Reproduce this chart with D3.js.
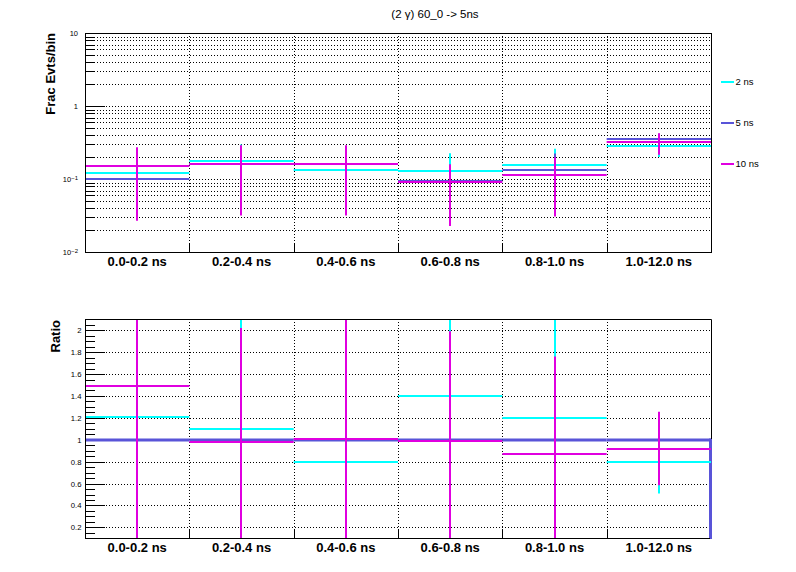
<!DOCTYPE html>
<html><head><meta charset="utf-8">
<script src="https://cdn.jsdelivr.net/npm/d3@7"></script>
<style>body{margin:0;background:#fff}svg{display:block;font-family:"Liberation Sans",Arial,Helvetica,sans-serif}</style>
</head><body><svg id="c" width="796" height="572"></svg>
<script>
// ---------------- data ----------------
const categories = ["0.0-0.2 ns","0.2-0.4 ns","0.4-0.6 ns","0.6-0.8 ns","0.8-1.0 ns","1.0-12.0 ns"];
const seriesLabels = ["2 ns","5 ns","10 ns"];
const frac2ns     = [0.122,0.178,0.133,0.130,0.157,0.283];
const frac2nsErr  = [0.090,0.122,0.100,0.097,0.106,0.081];
const frac5ns     = [0.100,0.163,0.161,0.095,0.133,0.356];
const frac5nsErr  = [0.070,0.120,0.120,0.065,0.092,0.065];
const frac10ns    = [0.151,0.162,0.162,0.091,0.115,0.322];
const frac10nsErr = [0.124,0.130,0.130,0.068,0.084,0.105];
const ratio2ns     = [1.21,1.10,0.80,1.40,1.20,0.80];
const ratio2nsErr  = [1.00,1.10,0.80,1.00,1.00,0.29];
const ratio5ns     = [1,1,1,1,1,1];
const ratio10ns    = [1.49,0.98,1.01,0.99,0.87,0.92];
const ratio10nsErr = [1.60,1.04,1.20,1.00,0.89,0.335];
const fracMajorTicks = [0.01,0.1,1,10];
const ratioMajorTicks = [0.2,0.4,0.6,0.8,1.0,1.2,1.4,1.6,1.8,2.0];
const titleText = "(2 \u03b3) 60_0 -> 5ns";
const yTitleTop = "Frac Evts/bin";
const yTitleBottom = "Ratio";

// ---------------- styling ----------------
const colors = {"2 ns":"#00ffff","5 ns":"#5954d8","10 ns":"#e000e0"};
const L = 85, R = 711;
const topPad = {t:33, b:252};
const botPad = {t:319, b:538};
const px = v => Math.round(v) + 0.5;

const svg = d3.select("#c");
svg.append("rect").attr("width",796).attr("height",572).attr("fill","#fff");

const x = d3.scaleBand().domain(categories).range([L,R]).padding(0);
const yTop = d3.scaleLog().domain([0.01,10]).range([topPad.b+0.3, topPad.t+0.3]);
const yBot = d3.scaleLinear().domain([0.1,2.1]).range([botPad.b+0.3, botPad.t+0.3]);

// title
svg.append("text").attr("x",435).attr("y",18).attr("text-anchor","middle")
  .attr("font-size","11.5px").text(titleText);

function drawFrameGrid(y, pad, gridVals, majorVals, minorVals) {
  const g = svg.append("g");
  gridVals.forEach(v => {
    const yy = px(y(v));
    if (yy <= pad.t+1 || yy >= pad.b) return;
    g.append("line").attr("x1",L).attr("x2",R).attr("y1",yy).attr("y2",yy)
      .attr("stroke","#000").attr("stroke-width",1).attr("stroke-dasharray","1,2");
  });
  categories.slice(1).forEach(c => {
    const xx = px(x(c));
    g.append("line").attr("x1",xx).attr("x2",xx).attr("y1",pad.t).attr("y2",pad.b)
      .attr("stroke","#000").attr("stroke-width",1).attr("stroke-dasharray","1,2");
    g.append("line").attr("x1",xx).attr("x2",xx).attr("y1",pad.b).attr("y2",pad.b-8)
      .attr("stroke","#000").attr("stroke-width",1);
  });
  minorVals.forEach(v => {
    const yy = px(y(v));
    if (yy < pad.t || yy > pad.b+1) return;
    g.append("line").attr("x1",L).attr("x2",L+10).attr("y1",yy).attr("y2",yy)
      .attr("stroke","#000").attr("stroke-width",1);
  });
  majorVals.forEach(v => {
    const yy = px(y(v));
    g.append("line").attr("x1",L).attr("x2",L+20).attr("y1",yy).attr("y2",yy)
      .attr("stroke","#000").attr("stroke-width",1);
  });
}

// ---------- top pad ----------
drawFrameGrid(yTop, topPad, yTop.ticks(), fracMajorTicks, yTop.ticks());

svg.append("clipPath").attr("id","clipTop").append("rect")
  .attr("x",L).attr("y",topPad.t).attr("width",R-L).attr("height",topPad.b-topPad.t);
svg.append("clipPath").attr("id","clipBot").append("rect")
  .attr("x",L).attr("y",botPad.t).attr("width",R-L+2).attr("height",botPad.b-botPad.t+1);

function drawSeries(gp, y, vals, errs, color, w) {
  vals.forEach((v,i) => {
    const c = categories[i];
    const x0 = x(c), x1 = x(c)+x.bandwidth(), xc = x(c)+x.bandwidth()/2;
    if (errs) {
      const lo = Math.max(v-errs[i], y.domain()[0]*0.5);
      gp.append("line").attr("x1",Math.round(xc)).attr("x2",Math.round(xc))
        .attr("y1",y(v+errs[i])).attr("y2",y(lo))
        .attr("stroke",color).attr("stroke-width",w);
    }
    gp.append("line").attr("x1",x0).attr("x2",x1).attr("y1",Math.round(y(v))).attr("y2",Math.round(y(v)))
      .attr("stroke",color).attr("stroke-width",w);
  });
}

const gTop = svg.append("g").attr("clip-path","url(#clipTop)");
drawSeries(gTop, yTop, frac2ns, frac2nsErr, colors["2 ns"], 2);
drawSeries(gTop, yTop, frac5ns, frac5nsErr, colors["5 ns"], 2);
drawSeries(gTop, yTop, frac10ns, frac10nsErr, colors["10 ns"], 2);

svg.append("rect").attr("x",L+0.5).attr("y",topPad.t+0.5).attr("width",R-L).attr("height",topPad.b-topPad.t)
  .attr("fill","none").attr("stroke","#000").attr("stroke-width",1);

const gyTop = svg.append("g").attr("transform",`translate(${L},0)`)
  .call(d3.axisLeft(yTop).tickValues(fracMajorTicks).tickSize(0).tickPadding(7).tickFormat(d3.format("")));
gyTop.select(".domain").remove();
gyTop.selectAll("text").attr("font-size","7.5px").attr("font-family",null).each(function(d){
  const e = Math.round(Math.log10(d));
  const t = d3.select(this);
  if (e < 0) {
    t.text(null);
    t.append("tspan").text("10");
    t.append("tspan").attr("font-size","6px").attr("dy","-0.45em").text("\u2212" + Math.abs(e));
  } else {
    t.text(d3.format("")(d));
  }
});

const gxTop = svg.append("g").attr("transform",`translate(0,${topPad.b+0.3})`)
  .call(d3.axisBottom(x).tickSize(0).tickPadding(4.5));
gxTop.select(".domain").remove();
gxTop.selectAll("text").attr("font-size","13px").attr("font-weight","bold").attr("font-family",null);

svg.append("text").attr("transform",`translate(55,${topPad.t}) rotate(-90)`).attr("text-anchor","end")
  .attr("font-size","13px").attr("font-weight","bold").text(yTitleTop);

// legend
seriesLabels.forEach((s,i) => {
  const yy = [82,123,164][i];
  svg.append("line").attr("x1",721).attr("x2",734).attr("y1",yy).attr("y2",yy)
    .attr("stroke",colors[s]).attr("stroke-width",2);
  svg.append("text").attr("x",735.5).attr("y",yy+3.4).attr("font-size","9.5px").text(s);
});

// ---------- bottom pad ----------
drawFrameGrid(yBot, botPad, ratioMajorTicks, ratioMajorTicks, yBot.ticks(40));

const gBot = svg.append("g").attr("clip-path","url(#clipBot)");
ratio5ns.forEach((v,i) => {
  const c = categories[i];
  gBot.append("line").attr("x1",x(c)).attr("x2",x(c)+x.bandwidth()).attr("y1",Math.round(yBot(v))).attr("y2",Math.round(yBot(v)))
    .attr("stroke",colors["5 ns"]).attr("stroke-width",3);
});
const lastC = categories[categories.length-1];
gBot.append("line").attr("x1",x(lastC)+x.bandwidth()-0.5).attr("x2",x(lastC)+x.bandwidth()-0.5)
  .attr("y1",Math.round(yBot(ratio5ns[ratio5ns.length-1]))-1.5).attr("y2",botPad.b+1)
  .attr("stroke",colors["5 ns"]).attr("stroke-width",3);
drawSeries(gBot, yBot, ratio2ns, ratio2nsErr, colors["2 ns"], 2);
drawSeries(gBot, yBot, ratio10ns, ratio10nsErr, colors["10 ns"], 2);

svg.append("path").attr("d",`M${L+0.5},${botPad.t+0.5}H${R+0.5}V${Math.round(yBot(1))-1}M${R-1},${botPad.b+0.5}H${L+0.5}V${botPad.t+0.5}`)
  .attr("fill","none").attr("stroke","#000").attr("stroke-width",1);

const gyBot = svg.append("g").attr("transform",`translate(${L},0)`)
  .call(d3.axisLeft(yBot).tickValues(ratioMajorTicks).tickSize(0).tickPadding(3.5).tickFormat(d3.format("~g")));
gyBot.select(".domain").remove();
gyBot.selectAll("text").attr("font-size","7.7px").attr("font-family",null);

const gxBot = svg.append("g").attr("transform",`translate(0,${botPad.b+0.3})`)
  .call(d3.axisBottom(x).tickSize(0).tickPadding(4.5));
gxBot.select(".domain").remove();
gxBot.selectAll("text").attr("font-size","13px").attr("font-weight","bold").attr("font-family",null);

svg.append("text").attr("transform",`translate(60,${botPad.t+1}) rotate(-90)`).attr("text-anchor","end")
  .attr("font-size","13px").attr("font-weight","bold").text(yTitleBottom);
</script></body></html>
